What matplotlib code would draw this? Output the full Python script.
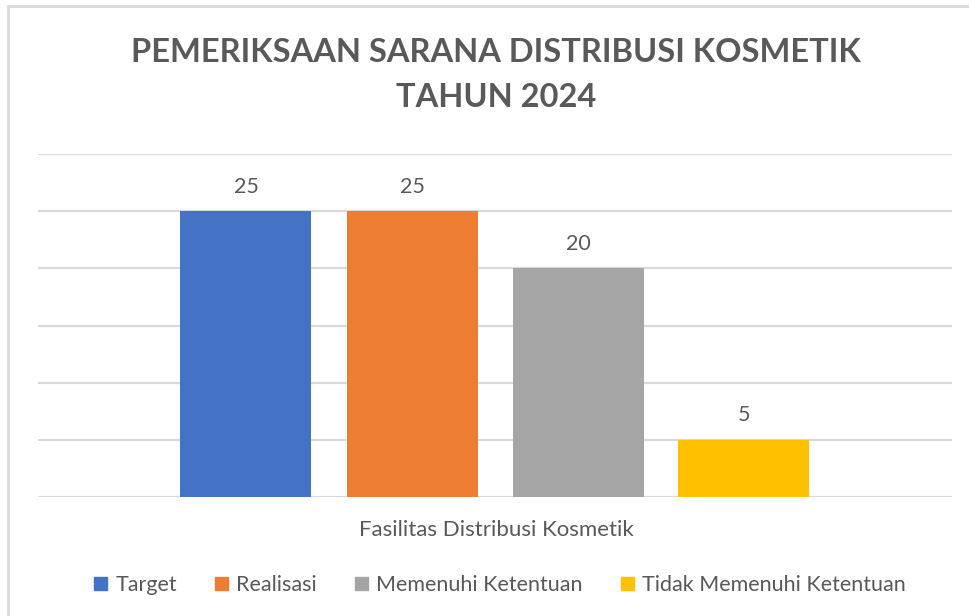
import numpy as np
import matplotlib
matplotlib.use("Agg")
import matplotlib.pyplot as plt
from matplotlib.patches import Rectangle

category = "Fasilitas Distribusi Kosmetik"
series = ["Target", "Realisasi", "Memenuhi Ketentuan", "Tidak Memenuhi Ketentuan"]
values = [25, 25, 20, 5]
colors = ["#4472C4", "#ED7D31", "#A5A5A5", "#FFC000"]

plt.rcParams["font.family"] = ["Lato", "DejaVu Sans"]
text_color = "#595959"

fig = plt.figure(figsize=(9.7, 6.16), dpi=100)
ax = fig.add_axes([38 / 970, 1 - 497 / 616, 914 / 970, (497 - 154) / 616])

# chart border (left and top visible in the crop)
fig.patches.append(Rectangle((8 / 970, -0.1), 1.2, 1 - 6 / 616 + 0.1,
                             transform=fig.transFigure, fill=False,
                             edgecolor="#D9D9D9", linewidth=2))

step = 166 / 914
width = 131 / 914
x = (np.arange(len(series)) - 1.5) * step
bars = ax.bar(x, values, width=width, color=colors, zorder=3)

for b, v in zip(bars, values):
    ax.annotate(f"{v}", (b.get_x() + b.get_width() / 2, v),
                xytext=(0, 10.5), textcoords="offset points",
                ha="center", va="bottom", fontsize=15.5, color=text_color)

ax.set_xlim(-0.5, 0.5)
ax.set_ylim(0, 30)
ax.set_yticks(range(0, 31, 5))
ax.yaxis.grid(True, color="#D9D9D9", linewidth=1.6)
ax.set_axisbelow(True)
ax.tick_params(left=False, bottom=False, labelleft=False, labelbottom=False)
for s in ax.spines.values():
    s.set_visible(False)

fig.text(496 / 970, 1 - 530 / 616, category, ha="center", va="center",
         fontsize=16, color=text_color)

fig.text(496 / 970, 1 - 75 / 616, "PEMERIKSAAN SARANA DISTRIBUSI KOSMETIK\nTAHUN 2024",
         ha="center", va="center", fontsize=23.5, fontweight="bold",
         color=text_color, linespacing=1.65)

handles = [Rectangle((0, 0), 1, 1, color=c) for c in colors]
fig.legend(handles, series, loc="center", bbox_to_anchor=(500 / 970, 1 - 585 / 616),
           ncol=4, frameon=False, fontsize=15.5, labelcolor=text_color,
           handlelength=0.6, handleheight=0.6, handletextpad=0.4, columnspacing=1.75)

fig.savefig("out.png", dpi=100, facecolor="white")
